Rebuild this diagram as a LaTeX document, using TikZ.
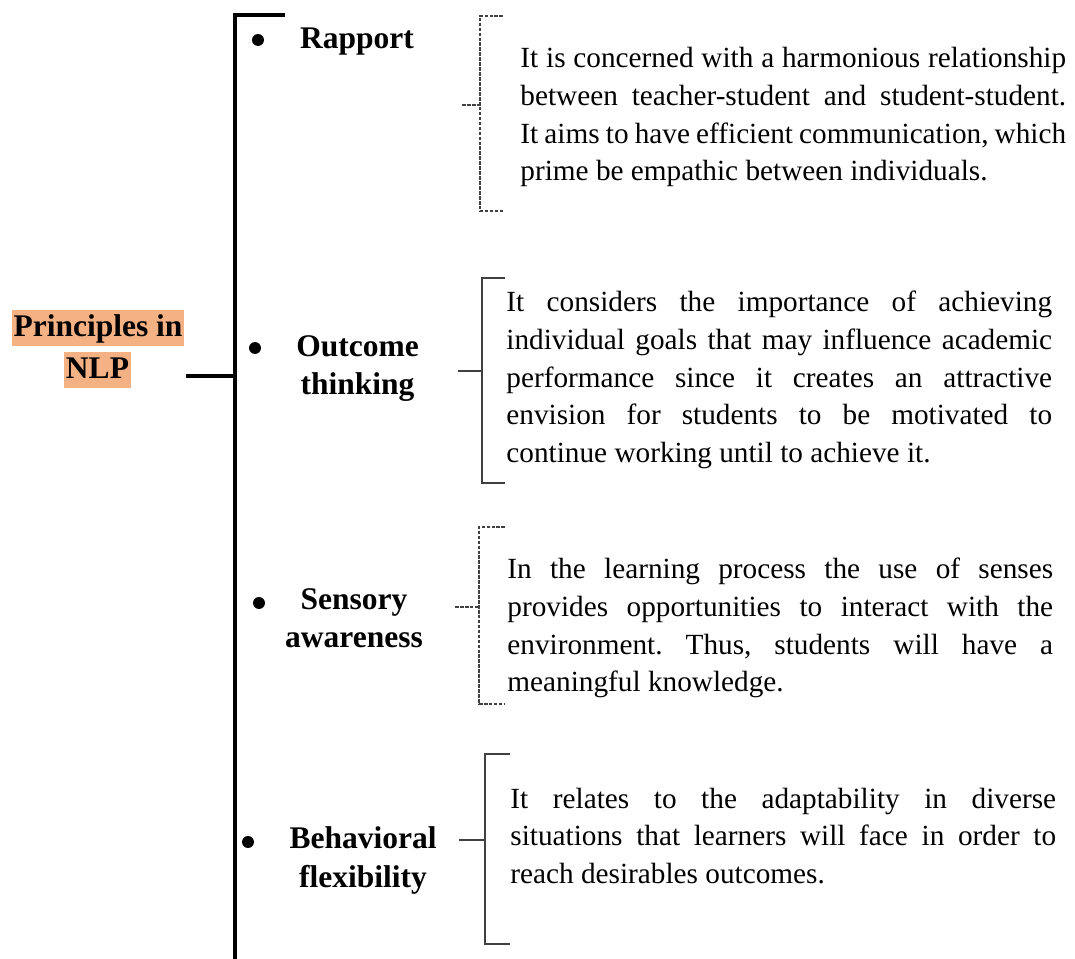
\documentclass[tikz,border=0pt]{standalone}
\usepackage{fontspec}
\setmainfont{Liberation Serif}
\usepackage{xcolor}
\definecolor{nlporange}{HTML}{F4B183}
\definecolor{nlpline}{HTML}{404040}
\hyphenpenalty=10000
\exhyphenpenalty=10000
\frenchspacing
\tikzset{
  trunk/.style={line width=1.8pt},
  solidbr/.style={draw=nlpline,line width=0.6pt},
  dashbr/.style={solidbr,line width=0.5pt,dash pattern=on 1.6pt off 0.6pt},
  hl/.style={fill=nlporange,font=\fontsize{14}{16}\selectfont\bfseries,inner xsep=0.7pt,inner ysep=0pt,text height=12.2pt,text depth=4.2pt,anchor=base},
  principle/.style={font=\fontsize{14}{16.9}\selectfont\bfseries,align=center,anchor=base,inner sep=0pt},
  dot/.style={circle,fill,inner sep=0pt,minimum size=5.3pt},
  desc/.style={font=\fontsize{13}{16.7}\selectfont,text width=242.5pt,align=justify,anchor=base west,inner sep=0pt},
}

\begin{document}
\begin{tikzpicture}[x=0.4444pt,y=-0.4444pt]
  \useasboundingbox (0,0) rectangle (1075,959);
  % root
  \node[hl] (prin) at (98,337) {Principles in};
  \node[hl] (nlp) at (97.5,379) {NLP};
  \coordinate (root) at (186,376);
  \coordinate (spine) at (235,376);
  \coordinate (spinetop) at (235,15);
  \coordinate (spineend) at (235,962);
  \draw[trunk] (root) -- (spine);
  \draw[trunk] (285,15) -- (spinetop) -- (spineend);
  % principles (base = last line)
  \node[dot] (b1) at (258,40) {};
  \node[principle] (rapport) at (357,49) {Rapport};
  \node[dot] (b2) at (255,348) {};
  \node[principle] (outcome) at (357.5,395) {Outcome\\thinking};
  \node[dot] (b3) at (259,603) {};
  \node[principle] (sensory) at (354,648) {Sensory\\awareness};
  \node[dot] (b4) at (248,842) {};
  \node[principle] (behav) at (363,887) {Behavioral\\flexibility};
  % descriptions
  \node[desc] (drap) at (520,68) {It is concerned with a harmonious relationship\linebreak between teacher-student and student-student.\linebreak It aims to have efficient communication, which\linebreak prime be empathic between individuals.};
  \node[desc] (dout) at (506,312) {It considers the importance of achieving\linebreak individual goals that may influence academic\linebreak performance since it creates an attractive\linebreak envision for students to be motivated to\linebreak continue working until to achieve it.};
  \node[desc] (dsen) at (507,579) {In the learning process the use of senses\linebreak provides opportunities to interact with the\linebreak environment. Thus, students will have a\linebreak meaningful knowledge.};
  \node[desc] (dbeh) at (510,808) {It relates to the adaptability in diverse\linebreak situations that learners will face in order to\linebreak reach desirables outcomes.};
  % brackets and their stubs
  \coordinate (rin) at (462,105);
  \coordinate (rbr) at (480,105);
  \draw[dashbr] (503,16) -| (480,211) -- (503,211);
  \draw[dashbr] (rin) -- (rbr);
  \coordinate (oin) at (458,371);
  \coordinate (obr) at (482,371);
  \draw[solidbr] (505,278) -| (482,483) -- (505,483);
  \draw[solidbr] (oin) -- (obr);
  \coordinate (sin) at (455,607);
  \coordinate (sbr) at (479,607);
  \draw[dashbr] (505,527) -| (479,704) -- (505,704);
  \draw[dashbr] (sin) -- (sbr);
  \coordinate (fin) at (459,840);
  \coordinate (fbr) at (485,840);
  \draw[solidbr] (510,754) -| (485,944) -- (510,944);
  \draw[solidbr] (fin) -- (fbr);
\end{tikzpicture}
\end{document}
